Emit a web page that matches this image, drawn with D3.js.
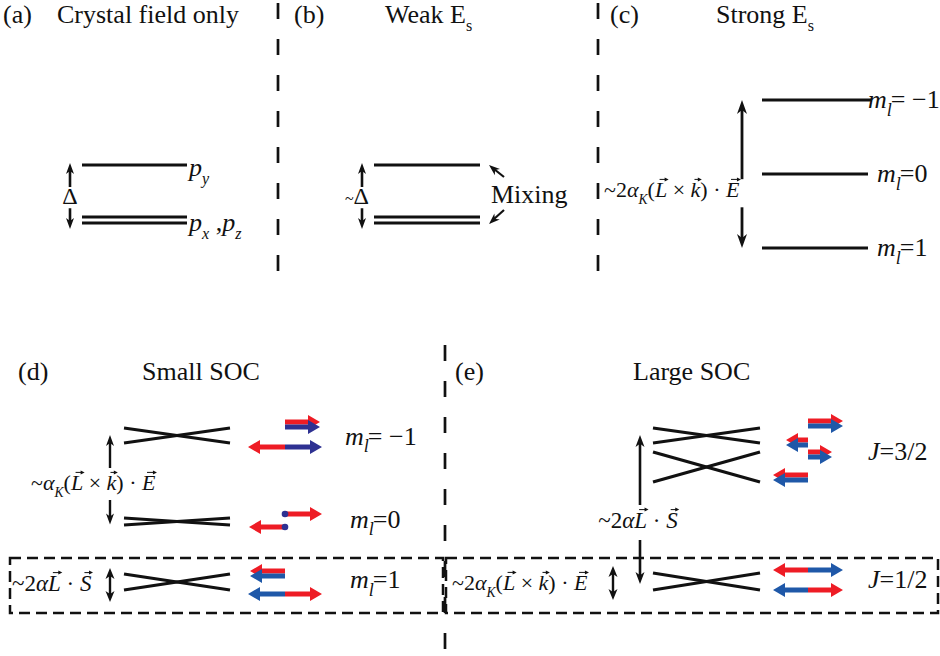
<!DOCTYPE html>
<html><head><meta charset="utf-8">
<script src="https://cdn.jsdelivr.net/npm/d3@7"></script>
</head><body style="margin:0">
<svg id="c" width="940" height="656"></svg>
<script>
// ---------- data ----------
const panelTags = ["(a)", "(b)", "(c)", "(d)", "(e)"];
const panelTitles = [
  [{t:"Crystal field only"}],
  [{t:"Weak E"},{t:"s",sub:true}],
  [{t:"Strong E"},{t:"s",sub:true}],
  [{t:"Small SOC"}],
  [{t:"Large SOC"}]
];
// crystal-field levels (energy units, 0 = px,pz doublet)
const cfEnergies = [1, 0];
const cfDegeneracy = [1, 2];
const cfLabels = [[{t:"p",i:true},{t:"y",i:true,sub:true}],
                  [{t:"p",i:true},{t:"x",i:true,sub:true},{t:" ,"},{t:"p",i:true},{t:"z",i:true,sub:true}]];
// strong field: m_l values, energy = -m_l
const mlValues = [-1, 0, 1];
// small SOC: level centres and splittings
const smallCenters = [154.5, 68.5, 8];
const smallSplits = [15, 7, 16];
const smallLabels = ["= −1", "=0", "=1"];
// large SOC
const largeCenters = [154.5, 123, 8.5];
const largeSplits = [15, 30, 17];
const jLabels = ["3/2", "1/2"];
const jLabelEnergy = [130, 2];
// spin/orbital arrows: row energy, kind, direction, length, colours
const spinSmall = [
  {E:168, kind:"pair",  dir: 1, len:35, c:["r","n"]},
  {E:143, kind:"split", dir: 0, len:37, c:["r","n"]},
  {E:76,  kind:"dot",   dir: 1, len:37, c:["r","n"]},
  {E:63,  kind:"dot",   dir:-1, len:36, c:["r","n"]},
  {E:19,  kind:"pair",  dir:-1, len:35, c:["r","b"]},
  {E:-4,  kind:"split", dir: 0, len:37, c:["b","r"]}
];
const spinLarge = [
  {E:169, kind:"pair",  dir: 1, len:35, c:["r","b"]},
  {E:150, kind:"pair",  dir:-1, len:22, c:["r","b"]},
  {E:138, kind:"pair",  dir: 1, len:24, c:["r","b"]},
  {E:115, kind:"pair",  dir:-1, len:35, c:["r","b"]},
  {E:20,  kind:"split", dir: 0, len:35, c:["r","b"]},
  {E:0,   kind:"split", dir: 0, len:35, c:["b","r"]}
];

// ---------- style ----------
const FONT = '"Liberation Serif"';
const INK = "#111";
const COL = {r:"#ee1c25", n:"#2e3192", b:"#1f58a8"};
const svg = d3.select("#c");

// ---------- scales ----------
const yTop = d3.scaleLinear().domain([0, 1]).range([220, 165]);
const yC = d3.scaleLinear().domain([-1, 1]).range([248, 100]);
const yBot = d3.scaleLinear().domain([0, 160]).range([590, 430]);

// ---------- helpers ----------
// each segment is its own <text>, laid out left to right
function mathText(g0, x, y, segs, size, anchor) {
  const g = g0.append("g");
  let cx = 0; const vecs = [];
  segs.forEach(s => {
    const fs = s.fs || (s.sub ? size * (s.ss || 0.62) : size);
    const txt = s.t.replace(/ /g, "\u00a0");
    cx += s.dx || 0;
    const t = g.append("text").attr("x", cx).attr("y", s.sub ? size * 0.3 : 0)
      .style("font-family", FONT).attr("font-size", fs).attr("fill", INK).text(txt);
    if (s.i) t.style("font-style", "italic");
    const w = t.node().getComputedTextLength();
    if (s.vec) vecs.push([cx, w]);
    cx += w;
  });
  vecs.forEach(([vx, w]) => {
    const x0 = vx + w * 0.3 + 1, x1 = vx + w + 1.5, yy = -size * 0.8;
    g.append("line").attr("x1", x0).attr("x2", x1 - 2).attr("y1", yy).attr("y2", yy)
      .attr("stroke", INK).attr("stroke-width", 1);
    g.append("path").attr("d", `M${x1},${yy}L${x1-4},${yy-2}L${x1-4},${yy+2}Z`).attr("fill", INK);
  });
  const off = anchor === "middle" ? cx / 2 : anchor === "end" ? cx : 0;
  g.attr("transform", `translate(${x - off},${y})`);
  return g;
}
function head(g, x, y, ang, L, W, color) {
  const ca = Math.cos(ang), sa = Math.sin(ang);
  const p = (u, v) => [x + u * ca - v * sa, y + u * sa + v * ca];
  const pts = [p(0,0), p(-L, -W/2), p(-L*0.72, 0), p(-L, W/2)];
  g.append("path").attr("d", "M" + pts.map(q => q.join(",")).join("L") + "Z").attr("fill", color || INK);
}
function vArrow(g, x, y1, y2, opt) {
  const o = Object.assign({w:2.5, L:11, W:9, both:false}, opt);
  const dir = Math.sign(y2 - y1);
  g.append("line").attr("x1", x).attr("x2", x)
    .attr("y1", o.both ? y1 + dir * o.L * 0.6 : y1).attr("y2", y2 - dir * o.L * 0.6)
    .attr("stroke", INK).attr("stroke-width", o.w);
  head(g, x, y2, dir > 0 ? Math.PI / 2 : -Math.PI / 2, o.L, o.W);
  if (o.both) head(g, x, y1, dir > 0 ? -Math.PI / 2 : Math.PI / 2, o.L, o.W);
}
function hLine(g, x1, x2, y1, y2) {
  g.append("line").attr("x1", x1).attr("x2", x2).attr("y1", y1).attr("y2", y2)
    .attr("stroke", INK).attr("stroke-width", 3.2);
}
function spinArrow(g, x0, y, dir, len, color) {
  const th = 5, L = 12, W = 14;
  const x1 = x0 + dir * len, xs = x1 - dir * L;
  const d = `M${x0},${y - th/2}L${xs},${y - th/2}L${xs},${y - W/2}L${x1},${y}L${xs},${y + W/2}L${xs},${y + th/2}L${x0},${y + th/2}Z`;
  g.append("path").attr("d", d).attr("fill", color);
}
function drawSpins(g, data, x0, y) {
  data.forEach(a => {
    const yy = y(a.E);
    if (a.kind === "pair") {
      spinArrow(g, x0, yy, a.dir, a.len, COL[a.c[0]]);
      spinArrow(g, x0, yy + 5, a.dir, a.len, COL[a.c[1]]);
    } else if (a.kind === "split") {
      spinArrow(g, x0, yy, -1, a.len, COL[a.c[0]]);
      spinArrow(g, x0, yy, 1, a.len, COL[a.c[1]]);
    } else if (a.kind === "dot") {
      spinArrow(g, x0, yy, a.dir, a.len, COL[a.c[0]]);
      g.append("circle").attr("cx", x0).attr("cy", yy).attr("r", 3.3).attr("fill", COL[a.c[1]]);
    }
  });
}
function mlLabel(g, x, y, rest, size) {
  mathText(g, x, y, [{t:"m",i:true},{t:"l",i:true,sub:true,ss:0.7},{t:rest,dx:-1}], size);
}
function drawX(g, xl, xr, centers, splits, y) {
  centers.forEach((c, i) => {
    const a = y(c + splits[i] / 2), b = y(c - splits[i] / 2);
    hLine(g, xl, xr, a, b);
    hLine(g, xl, xr, b, a);
  });
}

// ---------- dashed separators ----------
const dash = svg.append("g").attr("stroke", INK).attr("fill", "none");
[[278, 3, 272], [598, 3, 272], [445, 345, 656]].forEach(d =>
  dash.append("line").attr("x1", d[0]).attr("x2", d[0]).attr("y1", d[1]).attr("y2", d[2])
    .attr("stroke-width", 2.7).attr("stroke-dasharray", "16,20"));
[[10, 443], [446, 938]].forEach(d =>
  dash.append("rect").attr("x", d[0]).attr("y", 558).attr("width", d[1] - d[0]).attr("height", 55)
    .attr("stroke-width", 2.5).attr("stroke-dasharray", "11,6"));

// ---------- titles ----------
const tagPos = [[3, 23], [294, 23], [610, 23], [18, 380], [455, 380]];
const titlePos = [[57, 23], [385, 23], [716, 23], [142, 380], [633, 380]];
const T = svg.append("g");
panelTags.forEach((s, i) => mathText(T, tagPos[i][0], tagPos[i][1], [{t:s}], 26));
panelTitles.forEach((s, i) => mathText(T, titlePos[i][0], titlePos[i][1], s, 26));

// ---------- (a) and (b) ----------
[[82, 187, 70], [374, 480, 362]].forEach((p, k) => {
  const g = svg.append("g");
  cfEnergies.forEach((e, i) => {
    if (cfDegeneracy[i] === 1) hLine(g, p[0], p[1], yTop(e), yTop(e));
    else { hLine(g, p[0], p[1], yTop(e) - 3, yTop(e) - 3); hLine(g, p[0], p[1], yTop(e) + 3, yTop(e) + 3); }
  });
  vArrow(g, p[2], yTop(0.6), yTop(1) - 2, {w:2.6, L:11, W:8});
  vArrow(g, p[2], yTop(-0.15) - 20, yTop(0) + 9, {w:2.6, L:11, W:8});
  if (k === 0) {
    mathText(g, p[2], 204, [{t:"Δ"}], 24, "middle");
    cfLabels.forEach((l, i) => mathText(g, 189, yTop(cfEnergies[i]) + 11, l, 26));
  } else {
    mathText(g, p[2] + 7, 204, [{t:"~", fs:16},{t:"Δ"}], 24, "end");
    mathText(g, 491, 203, [{t:"Mixing"}], 26);
    g.append("line").attr("x1", 504).attr("y1", 177).attr("x2", 494).attr("y2", 169).attr("stroke", INK).attr("stroke-width", 2.2);
    head(g, 489, 165, Math.atan2(-11, -13), 11, 8);
    g.append("line").attr("x1", 504).attr("y1", 210).attr("x2", 494).attr("y2", 219).attr("stroke", INK).attr("stroke-width", 2.2);
    head(g, 489, 224, Math.atan2(12, -13), 11, 8);
  }
});

// ---------- (c) ----------
{
  const g = svg.append("g");
  mlValues.forEach((m, i) => {
    const y = yC(-m);
    hLine(g, 762, i === 0 ? 872 : 868, y, y);
    mlLabel(g, i === 0 ? 868 : 877, y + 8, m < 0 ? "= −" + Math.abs(m) : "=" + m, 26);
  });
  vArrow(g, 742, yC(-0.07), yC(1), {w:2.8, L:14, W:10});
  vArrow(g, 742, yC(-0.45), yC(-1), {w:2.8, L:14, W:10});
  mathText(g, 604, 197, [{t:"~"},{t:"2"},{t:"α",i:true},{t:"K",i:true,sub:true},{t:"("},{t:"L",i:true,vec:true},{t:" × "},{t:"k",i:true,vec:true},{t:")"},{t:" · "},{t:"E",i:true,vec:true}], 22);
}

// ---------- (d) ----------
{
  const g = svg.append("g");
  drawX(g, 124, 230, smallCenters, smallSplits, yBot);
  drawSpins(g, spinSmall, 285, yBot);
  smallLabels.forEach((s, i) => mlLabel(g, i === 0 ? 345 : 350, yBot(smallCenters[i]) + (i === 0 ? 9 : 6), s, 26));
  vArrow(g, 110, yBot(122), yBot(smallCenters[0] + 0.5), {w:2.4, L:11, W:8});
  vArrow(g, 110, yBot(90), yBot(smallCenters[1] - 3), {w:2.4, L:11, W:8});
  mathText(g, 31, 490, [{t:"~"},{t:"α",i:true},{t:"K",i:true,sub:true},{t:"("},{t:"L",i:true,vec:true},{t:" × "},{t:"k",i:true,vec:true},{t:")"},{t:" · "},{t:"E",i:true,vec:true}], 22);
  vArrow(g, 110, yBot(22), yBot(-12), {w:2.4, L:11, W:9, both:true});
  mathText(g, 12, 591, [{t:"~"},{t:"2"},{t:"α",i:true},{t:"L",i:true,vec:true},{t:" · "},{t:"S",i:true,vec:true}], 23);
}

// ---------- (e) ----------
{
  const g = svg.append("g");
  drawX(g, 653, 760, largeCenters, largeSplits, yBot);
  drawSpins(g, spinLarge, 808, yBot);
  jLabels.forEach((s, i) => mathText(g, 868, yBot(jLabelEnergy[i]) , [{t:"J",i:true},{t:"="+s}], 26));
  vArrow(g, 640, yBot(85), yBot(largeCenters[0] + 0.5), {w:2.6, L:12, W:9});
  vArrow(g, 640, yBot(50), yBot(6), {w:2.6, L:12, W:9});
  mathText(g, 638, 528, [{t:"~"},{t:"2"},{t:"α",i:true},{t:"L",i:true,vec:true},{t:" · "},{t:"S",i:true,vec:true}], 23, "middle");
  vArrow(g, 613, yBot(24), yBot(-10), {w:2.4, L:11, W:9, both:true});
  mathText(g, 452, 590, [{t:"~"},{t:"2"},{t:"α",i:true},{t:"K",i:true,sub:true},{t:"("},{t:"L",i:true,vec:true},{t:" × "},{t:"k",i:true,vec:true},{t:")"},{t:" · "},{t:"E",i:true,vec:true}], 22);
}
</script></body></html>
